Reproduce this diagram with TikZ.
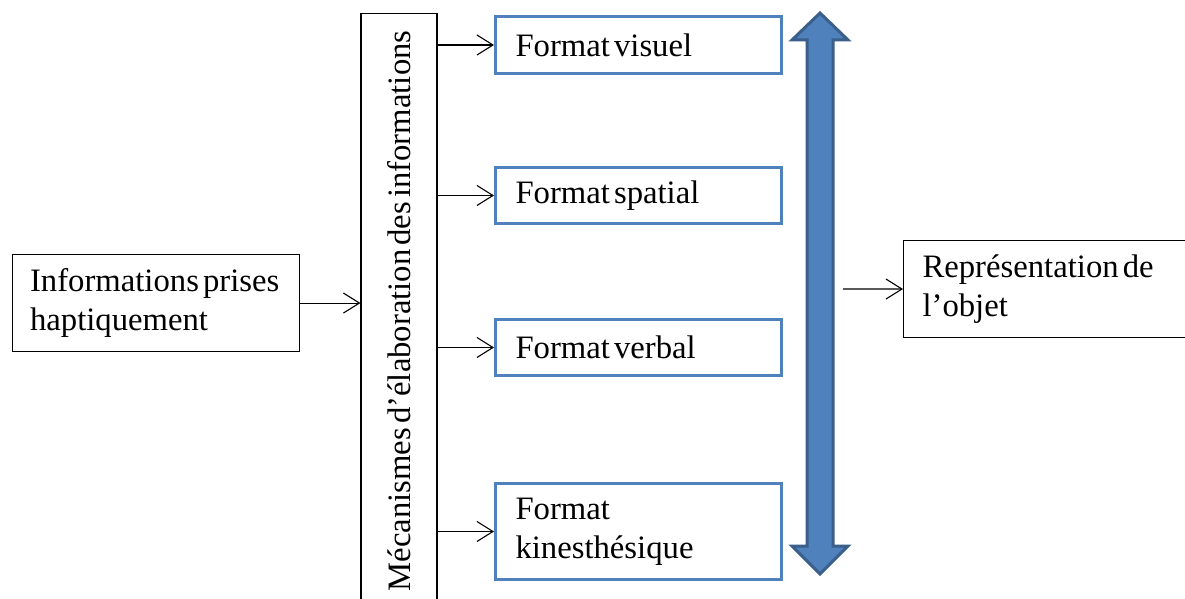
\documentclass[tikz,border=0pt]{standalone}
\usepackage{fontspec}
\setmainfont{Liberation Serif}[WordSpace=0.5]
\usetikzlibrary{arrows.meta,calc}
\definecolor{accent}{HTML}{4F81BD}
\definecolor{accentdark}{HTML}{3A5F8B}
\begin{document}
\begin{tikzpicture}[x=1pt,y=-1pt,
  every node/.style={font=\fontsize{32.7}{39}\selectfont},
  plainbox/.style={draw=black, line width=1.1pt, inner ysep=0pt, anchor=north west, align=flush left},
  fmtbox/.style={draw=accent, line width=3pt, anchor=north west, inner xsep=20pt, inner ysep=0pt, text width=246pt, align=flush left},
  conn/.style={-{Straight Barb[length=16pt,width=20pt]}, line width=1.1pt}
]
\useasboundingbox[fill=white] (0,0) rectangle (1185,599);

\node[plainbox, minimum height=97pt, inner xsep=17.5pt, text width=252pt] (info) at (12,254) {Informations prises\\haptiquement};

\node[draw, line width=1.1pt, rotate=90, minimum width=595pt, minimum height=76pt, inner sep=0pt] (mech) at (399,311) {Mécanismes d’élaboration des informations};

\node[fmtbox, minimum height=57pt] (fv) at (494,15) {Format visuel};
\node[fmtbox, minimum height=56pt] (fs) at (494,166) {Format spatial};
\node[fmtbox, minimum height=56pt] (fb) at (494,318) {Format verbal};
\node[fmtbox, minimum height=96pt] (fk) at (494,482) {Format\\kinesthésique};

\fill[accent, draw=accentdark, line width=3pt, line join=miter]
  (820,13) -- (848,40) -- (833,40) -- (833,546) -- (848,546) -- (820,574)
  -- (792,546) -- (807,546) -- (807,40) -- (792,40) -- cycle;
\coordinate (bigout) at (843,289);

\node[plainbox, minimum height=97pt, inner xsep=19pt, text width=262pt] (rep) at (903,240) {Représentation de\\l’objet};

\draw[conn] (info.east) -- (mech.north |- info.east);
\foreach \n in {fv,fs,fb,fk} \draw[conn] (mech.south |- \n.west) -- (\n.west);
\draw[conn] (bigout) -- (rep.west);
\end{tikzpicture}
\end{document}
